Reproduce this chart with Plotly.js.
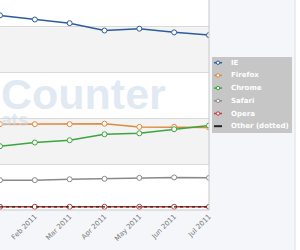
<!DOCTYPE html>
<html>
<head>
<meta charset="utf-8">
<script src="https://cdn.plot.ly/plotly-3.0.1.min.js"></script>
<style>html,body{margin:0;padding:0;background:#f4f6f9;}#chart{width:300px;height:250px;}</style>
</head>
<body>
<div id="chart"></div>
<script>
var months = ["Jan 2011","Feb 2011","Mar 2011","Apr 2011","May 2011","Jun 2011","Jul 2011"];
var seriesNames = ["IE","Firefox","Chrome","Safari","Opera","Other (dotted)"];
var ie      = [42.4, 41.5, 40.7, 39.1, 39.5, 38.7, 38.1];
var firefox = [18.7, 18.7, 18.7, 18.8, 18.1, 18.1, 18.0];
var chrome  = [13.9, 14.7, 15.2, 16.5, 16.7, 17.6, 18.4];
var safari  = [6.5, 6.5, 6.7, 6.8, 7.0, 7.1, 7.0];
var opera   = [0.7, 0.7, 0.7, 0.7, 0.7, 0.7, 0.7];
var other   = [0.7, 0.7, 0.7, 0.7, 0.7, 0.7, 0.7];
var colors  = ["#2d5c9b","#e0893e","#3ca53c","#8a8a8a","#c0393b","#222222"];
var seriesValues = [ie, firefox, chrome, safari, opera, other];
var watermarkMain = "Counter";
var watermarkSub = "ats";

var xIdx = months.map(function(m, i){ return i; });

var traces = seriesValues.map(function(vals, i){
  var isOther = (i === 5);
  return {
    x: xIdx, y: vals, name: seriesNames[i], type: 'scatter',
    mode: isOther ? 'lines' : 'lines+markers',
    line: {color: colors[i], width: isOther ? 1.2 : 1.5, dash: isOther ? 'dot' : 'solid'},
    marker: {symbol: 'circle', size: 5, color: '#ffffff', line: {color: colors[i], width: 1}},
    showlegend: false, hoverinfo: 'skip'
  };
});

var PW = 209, PH = 210;
function px(p){ return p / PW; }
function py(p){ return (PH - p) / PH; }

var shapes = [
  {type:'rect', xref:'paper', yref:'y', x0:0, x1:1, y0:10, y1:20, fillcolor:'#f3f3f3', line:{width:0}, layer:'below'},
  {type:'rect', xref:'paper', yref:'y', x0:0, x1:1, y0:30, y1:40, fillcolor:'#f3f3f3', line:{width:0}, layer:'below'},
  {type:'line', xref:'paper', yref:'paper', x0:1, x1:1, y0:0, y1:1, line:{color:'#c8c8c8', width:1}},
  {type:'line', xref:'paper', yref:'paper', x0:0, x1:1, y0:0, y1:0, line:{color:'#c8c8c8', width:1}},
  {type:'rect', xref:'paper', yref:'paper', x0:px(295), x1:px(301), y0:py(251), y1:py(-1), fillcolor:'#ffffff', line:{width:0}},
  {type:'line', xref:'paper', yref:'paper', x0:px(295), x1:px(295), y0:py(251), y1:py(-1), line:{color:'#e3e8ef', width:1.5}},
  {type:'rect', xref:'paper', yref:'paper', x0:px(212), x1:px(292), y0:py(133), y1:py(57), fillcolor:'#c6c6c6', line:{width:0}}
];

var annotations = [
  {xref:'paper', yref:'paper', x:0, y:py(131), xanchor:'left', yanchor:'bottom', align:'left', borderpad:0,
   text:'<span style="font-size:43px"><b>'+watermarkMain+'</b></span><br><span style="font-size:19px"><b>'+watermarkSub+'</b></span>',
   showarrow:false, font:{family:'Liberation Sans, Arial, sans-serif', size:13, color:'rgba(205,218,234,0.6)'}}
];

seriesNames.forEach(function(n, i){
  var yy = 62.7 + i * 12.7;
  shapes.push({type:'line', xref:'paper', yref:'paper', x0:px(214), x1:px(222), y0:py(yy), y1:py(yy),
    line:{color: colors[i], width: i === 5 ? 2 : 1.5}});
  if (i !== 5) {
    shapes.push({type:'circle', xref:'paper', yref:'paper', x0:px(216.3), x1:px(219.7), y0:py(yy+1.7), y1:py(yy-1.7),
      fillcolor:'#ffffff', line:{color: colors[i], width: 1}});
  }
  annotations.push({xref:'paper', yref:'paper', x:px(229), y:py(yy), xanchor:'left', yanchor:'middle', text:'<b>'+n+'</b>',
    showarrow:false, font:{family:'DejaVu Sans, Verdana, sans-serif', size:7, color:'#ffffff'}});
});

var layout = {
  width: 300, height: 250,
  margin: {l:0, r:91, t:0, b:40, pad:0},
  paper_bgcolor: '#f4f6f9', plot_bgcolor: '#ffffff',
  showlegend: false,
  xaxis: {range:[0,6], tickvals: xIdx, ticktext: months, tickangle: -45, showgrid:false, zeroline:false,
    ticks:'', tickfont:{family:'DejaVu Sans, Verdana, sans-serif', size:7, color:'#777777'}, fixedrange:true},
  yaxis: {range:[0,45.75], dtick:10, tick0:0, showgrid:true, gridcolor:'#d9d9d9', gridwidth:1, zeroline:false,
    showticklabels:false, ticks:'', fixedrange:true},
  shapes: shapes, annotations: annotations
};

Plotly.newPlot('chart', traces, layout, {staticPlot:true, displayModeBar:false});
</script>
</body>
</html>
